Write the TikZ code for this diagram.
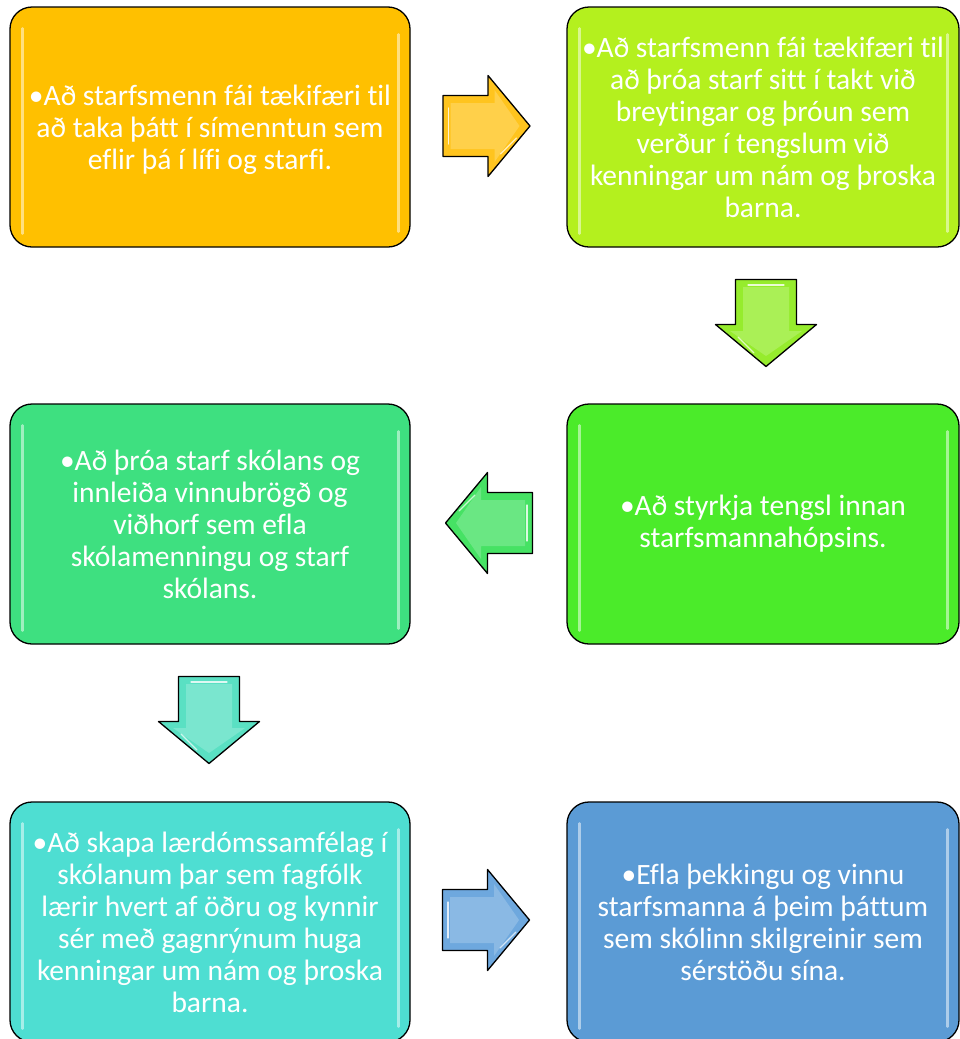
\documentclass[tikz,border=0pt]{standalone}
\usepackage{fontspec}
\setmainfont{Carlito}[Ligatures=NoCommon]
\usetikzlibrary{calc}
\definecolor{cA}{RGB}{255,192,0}
\definecolor{cB}{RGB}{180,240,30}
\definecolor{cC}{RGB}{62,224,128}
\definecolor{cD}{RGB}{75,235,42}
\definecolor{cE}{RGB}{78,222,210}
\definecolor{cF}{RGB}{91,155,213}
\definecolor{aA}{RGB}{255,196,30}
\definecolor{aB}{RGB}{150,236,45}
\definecolor{aC}{RGB}{70,226,100}
\definecolor{aD}{RGB}{90,224,195}
\definecolor{aE}{RGB}{110,168,222}
\newcommand\glossbox[1]{%
  \draw[white, opacity=.5, line width=2.4pt, line cap=round]
    ($(#1.north west)+(13,22)$) -- ($(#1.south west)+(13,-14)$);
  \draw[white, opacity=.5, line width=2.4pt, line cap=round]
    ($(#1.north east)+(-12,28)$) -- ($(#1.south east)+(-12,-16)$);
}
\begin{document}
\begin{tikzpicture}[x=1pt,y=-1pt,
  box/.style={draw=black, line width=1.3pt, rounded corners=22pt, text=white,
    align=center, font=\fontsize{29.5}{32}\selectfont, inner sep=0pt,
    minimum height=240pt},
  lbox/.style={box, minimum width=400pt},
  rbox/.style={box, minimum width=392pt},
  pics/barrow/.style={code={
    \draw[fill=#1, line width=1.3pt, line join=round]
      (-43.5,-30.5) -- (1.5,-30.5) -- (1.5,-50.5) -- (43.5,0) -- (1.5,50.5)
      -- (1.5,30.5) -- (-43.5,30.5) -- cycle;
    \fill[#1!75!white, opacity=.8]
      (-36,-23) -- (8,-23) -- (8,-36) -- (33,0) -- (8,36) -- (8,23) -- (-36,23) -- cycle;
    \draw[white, opacity=.8, line width=1.2pt, line cap=round]
      (-38,-18) -- (-38,18);
    \draw[white, opacity=.7, line width=1.2pt, line cap=round]
      (14,28) -- (30,12);
  }}
]
\useasboundingbox (0,0) rectangle (960,1039);

\node[lbox, fill=cA] (b1) at (210,127) {};
\node[text=white, align=center, font=\fontsize{29.5}{32}\selectfont, inner sep=0pt] (t1) at (210,130)
  {•Að starfsmenn fái tækifæri til\\að taka þátt í símenntun sem\\eflir þá í lífi og starfi.};
\node[rbox, fill=cB] (b2) at (763,127)
  {•Að starfsmenn fái tækifæri til\\að þróa starf sitt í takt við\\breytingar og þróun sem\\verður í tengslum við\\kenningar um nám og þroska\\barna.};
\node[lbox, fill=cC] (b3) at (210,524)
  {•Að þróa starf skólans og\\innleiða vinnubrögð og\\viðhorf sem efla\\skólamenningu og starf\\skólans.};
\node[rbox, fill=cD] (b4) at (763,524)
  {•Að styrkja tengsl innan\\starfsmannahópsins.};
\node[lbox, fill=cE] (b5) at (210,922)
  {•Að skapa lærdómssamfélag í\\skólanum þar sem fagfólk\\lærir hvert af öðru og kynnir\\sér með gagnrýnum huga\\kenningar um nám og þroska\\barna.};
\node[rbox, fill=cF] (b6) at (763,922)
  {•Efla þekkingu og vinnu\\starfsmanna á þeim þáttum\\sem skólinn skilgreinir sem\\sérstöðu sína.};

\foreach \b in {b1,b2,b3,b4,b5,b6} {\glossbox{\b}}

\pic at (486.5,126) {barrow=aA};
\pic[rotate=-90] at (766,323) {barrow=aB};
\pic[rotate=180] at (489,523) {barrow=aC};
\pic[rotate=-90] at (209,720) {barrow=aD};
\pic at (486,920) {barrow=aE};
\end{tikzpicture}
\end{document}
